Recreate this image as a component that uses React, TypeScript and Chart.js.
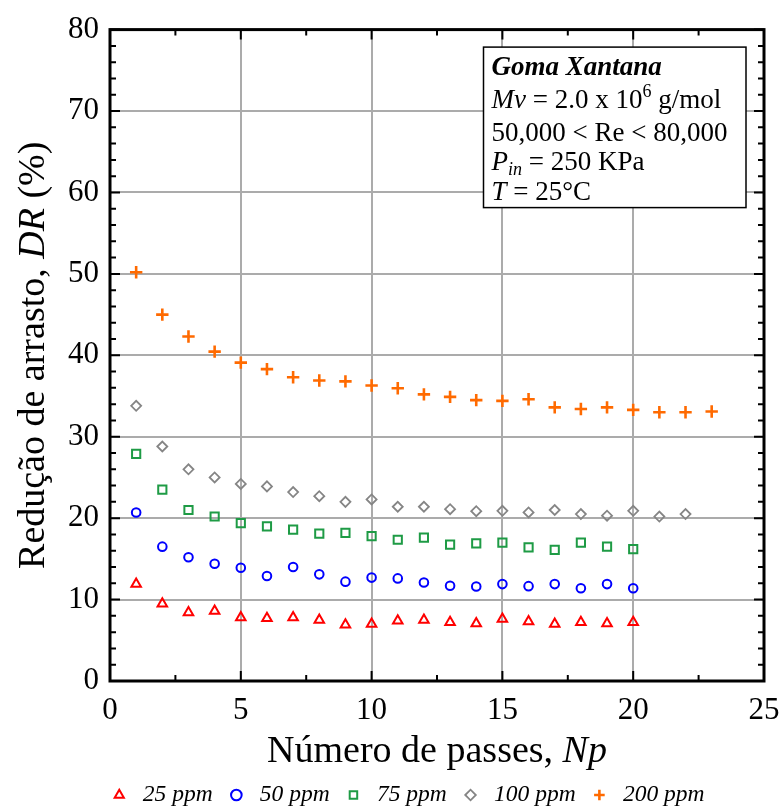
import React, { useEffect, useRef } from 'react';
import { Chart, registerables } from 'chart.js';

Chart.register(...registerables);

const FONT = '"Liberation Serif", "Times New Roman", Times, serif';

// ---- data ----
const passes20 = [1, 2, 3, 4, 5, 6, 7, 8, 9, 10, 11, 12, 13, 14, 15, 16, 17, 18, 19, 20];
const passes22 = [1, 2, 3, 4, 5, 6, 7, 8, 9, 10, 11, 12, 13, 14, 15, 16, 17, 18, 19, 20, 21, 22];
const passes23 = [1, 2, 3, 4, 5, 6, 7, 8, 9, 10, 11, 12, 13, 14, 15, 16, 17, 18, 19, 20, 21, 22, 23];

const dr25ppm = [11.9, 9.5, 8.4, 8.6, 7.8, 7.7, 7.8, 7.5, 6.9, 7.0, 7.4, 7.5, 7.2, 7.05, 7.6, 7.3, 7.0, 7.2, 7.05, 7.2];
const dr50ppm = [20.7, 16.5, 15.2, 14.4, 13.9, 12.9, 14.0, 13.1, 12.2, 12.7, 12.6, 12.1, 11.7, 11.6, 11.9, 11.65, 11.9, 11.4, 11.9, 11.4];
const dr75ppm = [27.9, 23.5, 21.0, 20.2, 19.4, 19.0, 18.6, 18.1, 18.2, 17.8, 17.35, 17.6, 16.75, 16.9, 17.0, 16.4, 16.1, 17.0, 16.5, 16.2];
const dr100ppm = [33.8, 28.8, 26.0, 25.0, 24.2, 23.9, 23.2, 22.7, 22.0, 22.3, 21.4, 21.4, 21.1, 20.85, 20.9, 20.7, 21.0, 20.5, 20.3, 20.9, 20.2, 20.5];
const dr200ppm = [50.2, 45.0, 42.3, 40.45, 39.1, 38.3, 37.3, 36.9, 36.8, 36.3, 35.95, 35.2, 34.9, 34.5, 34.4, 34.6, 33.6, 33.4, 33.6, 33.3, 33.0, 33.0, 33.1];

const seriesLabels = ['25 ppm', '50 ppm', '75 ppm', '100 ppm', '200 ppm'];
const xTitleMain = 'Número de passes, ';
const xTitleItalic = 'Np';
const yTitleMain = 'Redução de arrasto, ';
const yTitleItalic = 'DR';
const yTitleEnd = ' (%)';

const toPoints = (xs: number[], ys: number[]) => xs.map((x, i) => ({ x, y: ys[i] }));

type Run = { t: string; f: string; dy?: number };

function runsWidth(ctx: CanvasRenderingContext2D, runs: Run[]) {
  let w = 0;
  for (const r of runs) {
    ctx.font = r.f;
    w += ctx.measureText(r.t).width;
  }
  return w;
}

function drawRuns(ctx: CanvasRenderingContext2D, runs: Run[], x: number, y: number) {
  let cx = x;
  for (const r of runs) {
    ctx.font = r.f;
    ctx.fillText(r.t, cx, y + (r.dy || 0));
    cx += ctx.measureText(r.t).width;
  }
}

const framePlugin = {
  id: 'frameTicks',
  beforeDatasetsDraw(chart: any) {
    const { ctx, chartArea } = chart;
    const { left, right, top, bottom } = chartArea;
    const xs = chart.scales.x;
    const ys = chart.scales.y;
    ctx.save();
    ctx.strokeStyle = '#000';
    ctx.lineWidth = 2;
    ctx.beginPath();
    for (let v = xs.min; v <= xs.max + 1e-9; v += 2.5) {
      const px = xs.getPixelForValue(v);
      const len = Math.abs(v % 5) < 1e-9 ? 10 : 6;
      ctx.moveTo(px, bottom);
      ctx.lineTo(px, bottom - len);
      ctx.moveTo(px, top);
      ctx.lineTo(px, top + len);
    }
    for (let v = ys.min; v <= ys.max + 1e-9; v += 2) {
      const py = ys.getPixelForValue(v);
      const len = Math.abs(v % 10) < 1e-9 ? 10 : 6;
      ctx.moveTo(left, py);
      ctx.lineTo(left + len, py);
      ctx.moveTo(right, py);
      ctx.lineTo(right - len, py);
    }
    ctx.stroke();
    ctx.lineWidth = 3;
    ctx.strokeRect(left, top, right - left, bottom - top);
    ctx.restore();
  },
};

const textPlugin = {
  id: 'textBoxes',
  afterDatasetsDraw(chart: any) {
    const { ctx, chartArea } = chart;
    const { left, right, top, bottom } = chartArea;
    ctx.save();
    // annotation box
    const bx = right - 280.5;
    const by = top + 17.5;
    const bw = 262.5;
    const bh = 160.5;
    ctx.fillStyle = '#fff';
    ctx.fillRect(bx, by, bw, bh);
    ctx.strokeStyle = '#000';
    ctx.lineWidth = 1.5;
    ctx.strokeRect(bx, by, bw, bh);
    ctx.fillStyle = '#000';
    ctx.textBaseline = 'alphabetic';
    ctx.textAlign = 'left';
    const n = `27px ${FONT}`;
    const it = `italic 27px ${FONT}`;
    const sm = `18px ${FONT}`;
    const smi = `italic 18px ${FONT}`;
    const tx = bx + 8;
    drawRuns(ctx, [{ t: 'Goma Xantana', f: `italic bold 27px ${FONT}` }], tx, by + 28);
    drawRuns(ctx, [
      { t: 'Mv', f: it },
      { t: ' = 2.0 x 10', f: n },
      { t: '6', f: sm, dy: -11 },
      { t: ' g/mol', f: n },
    ], tx, by + 61);
    drawRuns(ctx, [{ t: '50,000 < Re < 80,000', f: n }], tx, by + 93.5);
    drawRuns(ctx, [
      { t: 'P', f: it },
      { t: 'in', f: smi, dy: 5 },
      { t: ' = 250 KPa', f: n },
    ], tx, by + 122.5);
    drawRuns(ctx, [
      { t: 'T', f: it },
      { t: ' = 25°C', f: n },
    ], tx, by + 152.5);

    // axis titles
    ctx.textBaseline = 'middle';
    const xr: Run[] = [
      { t: xTitleMain, f: `38px ${FONT}` },
      { t: xTitleItalic, f: `italic 38px ${FONT}` },
    ];
    const xw = runsWidth(ctx, xr);
    drawRuns(ctx, xr, (left + right) / 2 - xw / 2, bottom + 71.5);

    const yr: Run[] = [
      { t: yTitleMain, f: `38px ${FONT}` },
      { t: yTitleItalic, f: `italic 38px ${FONT}` },
      { t: yTitleEnd, f: `38px ${FONT}` },
    ];
    const yw = runsWidth(ctx, yr);
    ctx.translate(left - 76, (top + bottom) / 2);
    ctx.rotate(-Math.PI / 2);
    drawRuns(ctx, yr, -yw / 2, 0);
    ctx.restore();
  },
};

export default function App() {
  const ref = useRef<HTMLCanvasElement | null>(null);

  useEffect(() => {
    if (!ref.current) return;
    const mk = (label: string, data: any[], color: string, style: string, radius: number, bw: number) => ({
      label,
      data,
      pointStyle: style,
      borderColor: color,
      backgroundColor: 'rgba(0,0,0,0)',
      pointBorderColor: color,
      pointBackgroundColor: 'rgba(0,0,0,0)',
      pointRadius: radius,
      pointHoverRadius: radius,
      pointBorderWidth: bw,
      borderWidth: bw,
      showLine: false,
    });
    const chart = new Chart(ref.current, {
      type: 'scatter',
      data: {
        datasets: [
          mk(seriesLabels[0], toPoints(passes20, dr25ppm), '#ff0000', 'triangle', 5.5, 2),
          mk(seriesLabels[1], toPoints(passes20, dr50ppm), '#0000ff', 'circle', 4.3, 2),
          mk(seriesLabels[2], toPoints(passes20, dr75ppm), '#1e9b45', 'rect', 5.8, 2),
          mk(seriesLabels[3], toPoints(passes22, dr100ppm), '#858585', 'rectRot', 5, 1.8),
          mk(seriesLabels[4], toPoints(passes23, dr200ppm), '#ff6a00', 'cross', 6.2, 2.6),
        ],
      },
      options: {
        animation: false,
        responsive: true,
        maintainAspectRatio: false,
        layout: { padding: { left: 48, right: 19, top: 28, bottom: 0 } },
        plugins: {
          tooltip: { enabled: false },
          legend: {
            position: 'bottom',
            maxHeight: 36.75,
            labels: {
              usePointStyle: true,
              boxWidth: 37,
              boxHeight: 7.5,
              padding: 12,
              color: '#000',
              font: { family: FONT, size: 23.5, style: 'italic' },
            },
          },
        },
        scales: {
          x: {
            type: 'linear',
            min: 0,
            max: 25,
            afterFit: (s: any) => {
              s.height = 90.25;
            },
            ticks: {
              stepSize: 5,
              padding: 0,
              maxRotation: 0,
              color: '#000',
              font: { family: FONT, size: 31 },
            },
            grid: {
              color: '#ababab',
              lineWidth: 2,
              drawTicks: true,
              tickLength: 11,
              tickColor: 'rgba(0,0,0,0)',
            },
            border: { display: false },
          },
          y: {
            type: 'linear',
            min: 0,
            max: 80,
            afterFit: (s: any) => {
              s.width = 62;
            },
            ticks: {
              stepSize: 10,
              padding: 11,
              color: '#000',
              font: { family: FONT, size: 31 },
            },
            grid: { color: '#ababab', lineWidth: 2, drawTicks: false },
            border: { display: false },
          },
        },
      },
      plugins: [framePlugin, textPlugin],
    } as any);
    return () => chart.destroy();
  }, []);

  return (
    <div style={{ position: 'absolute', left: 0, top: 0, width: 783, height: 808, background: '#fff' }}>
      <canvas ref={ref} />
    </div>
  );
}
